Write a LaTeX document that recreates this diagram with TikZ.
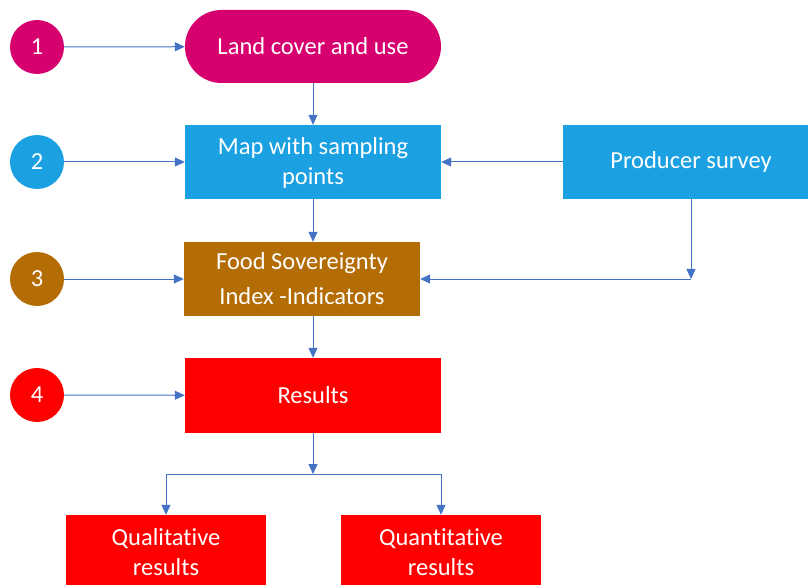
\documentclass[tikz,border=0pt]{standalone}
\usepackage{fontspec}
\setmainfont[Ligatures=NoCommon]{Carlito}
\usetikzlibrary{arrows.meta}
\definecolor{landpink}{HTML}{D6006F}
\definecolor{mapblue}{HTML}{1BA1E2}
\definecolor{fsibrown}{HTML}{B46C04}
\definecolor{resred}{HTML}{FF0000}
\definecolor{arrowblue}{HTML}{4472C4}
\tikzset{
  stepnum/.style={circle, minimum size=54pt, inner sep=0pt, text=white,
    font=\fontsize{24.5}{30}\selectfont},
  stagebox/.style={minimum width=256pt, minimum height=74pt, inner sep=0pt,
    text=white, align=center, font=\fontsize{24.5}{30}\selectfont},
  flow/.style={-{Triangle[length=10pt,width=9pt]}, draw=arrowblue, line width=1pt},
}
\begin{document}
\begin{tikzpicture}[x=1pt, y=-1pt]
        \useasboundingbox (0,0) rectangle (808,585);
        \clip (0,0) rectangle (808,585);
        % Step 1
        \node[stepnum, fill=landpink] (n1) at (37,47) {1};
        \node[stagebox, fill=landpink, rounded corners=36.5pt, minimum height=73pt] (land) at (313,46.5) {Land cover and use};
        % Step 2
        \node[stepnum, fill=mapblue] (n2) at (37,162) {2};
        \node[stagebox, fill=mapblue, text depth=2pt] (map) at (313,162) {Map with sampling\\points};
        \node[stagebox, fill=mapblue] (survey) at (691,162) {Producer survey};
        % Step 3
        \node[stepnum, fill=fsibrown] (n3) at (37,279) {3};
        \node[stagebox, fill=fsibrown, minimum width=236pt, font=\fontsize{24.5}{35}\selectfont] (fsi) at (302,279) {Food Sovereignty\\Index -Indicators};
        % Step 4
        \node[stepnum, fill=resred] (n4) at (37,395) {4};
        \node[stagebox, fill=resred, minimum height=75pt] (res) at (313,395.5) {Results};
        \node[stagebox, fill=resred, minimum width=200pt, minimum height=75pt] (qual) at (166,552.5) {Qualitative\\results};
        \node[stagebox, fill=resred, minimum width=200pt, minimum height=75pt] (quant) at (441,552.5) {Quantitative\\results};
        % Step arrows
        \draw[flow] (n1) -- (land);
        \draw[flow] (n2) -- (map);
        \draw[flow] (n3) -- (fsi);
        \draw[flow] (n4) -- (res);
        % Main flow
        \draw[flow] (land) -- (map);
        \draw[flow] (map.south) -- (map.south |- fsi.north);
        \draw[flow] (res.north |- fsi.south) -- (res.north);
        % Survey input
        \coordinate (bend) at (survey.south |- fsi.east);
        \draw[flow] (survey) -- (map);
        \draw[flow] (survey.south) -- (bend);
        \draw[flow] (bend) -- (fsi.east);
        % Split of results
        \coordinate (split) at (313,474);
        \draw[flow] (res.south) -- (split);
        \draw[flow] (split) -| (qual.north);
        \draw[flow] (split) -| (quant.north);
\end{tikzpicture}
\end{document}
